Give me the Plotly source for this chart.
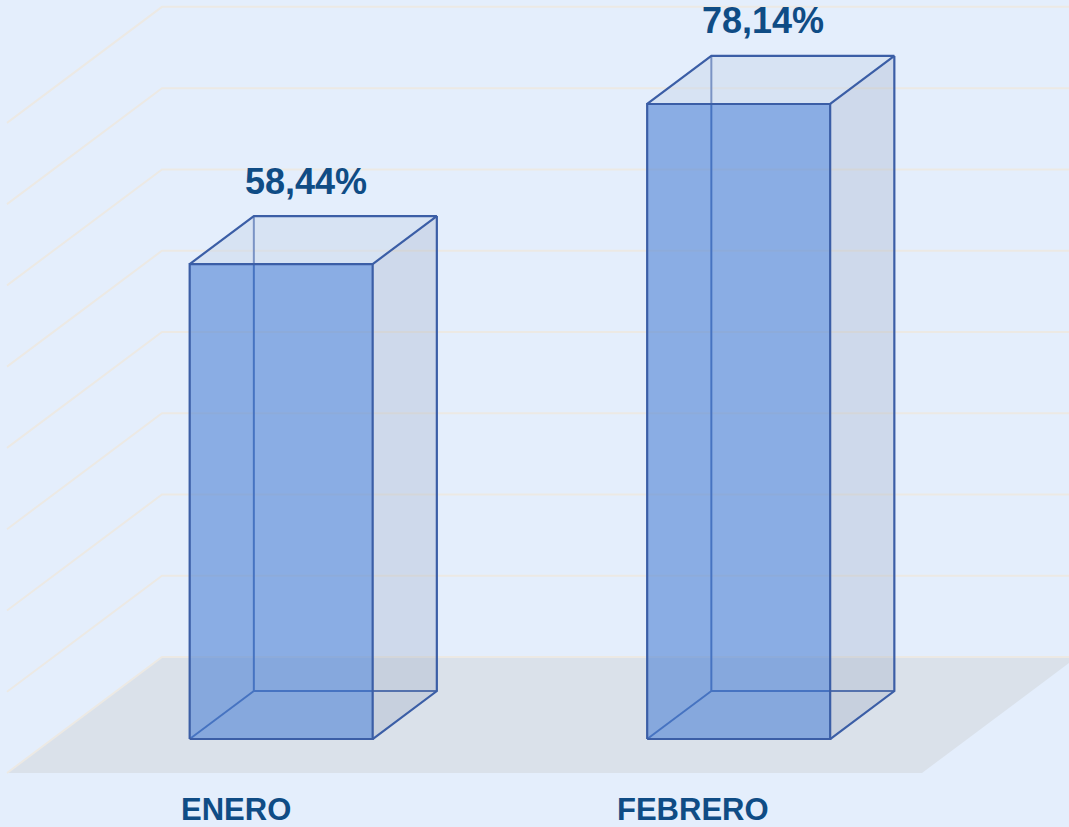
import plotly.graph_objects as go

# ---- data ----
categories = ["ENERO", "FEBRERO"]
values = [58.44, 78.14]
value_labels = ["58,44%", "78,14%"]
grid_values = [0, 10, 20, 30, 40, 50, 60, 70, 80]

# ---- oblique 3D projection settings (in axis units) ----
DX = 0.3388      # horizontal shift for full depth (category units)
DY = 14.27       # vertical shift for full depth (value units)
T_FRONT = 0.293  # bar front depth
T_BACK = 0.707   # bar back depth
HALF_W = 0.2     # half bar width
X_MIN, X_MAX = -0.5, len(categories) - 0.5

BG = "#E4EEFC"
EDGE = "#3B5EA6"
TEXT = "#0F4C85"


def P(x, z, t):
    return x + t * DX, z + t * DY


def poly(points):
    xs = [p[0] for p in points] + [points[0][0]]
    ys = [p[1] for p in points] + [points[0][1]]
    return xs, ys


fig = go.Figure()

# floor
fx, fy = poly([P(X_MIN, 0, 0), P(X_MAX, 0, 0), P(X_MAX, 0, 1), P(X_MIN, 0, 1)])
fig.add_trace(go.Scatter(x=fx, y=fy, fill="toself", fillcolor="#DAE1EA",
                         mode="lines", line=dict(width=0), hoverinfo="skip"))

# gridlines (side wall + back wall)
gx, gy = [], []
for v in grid_values:
    for p in [P(X_MIN, v, 0), P(X_MIN, v, 1), P(X_MAX + 0.05, v, 1)]:
        gx.append(p[0]); gy.append(p[1])
    gx.append(None); gy.append(None)
fig.add_trace(go.Scatter(x=gx, y=gy, mode="lines",
                         line=dict(color="#ECE9E4", width=2), hoverinfo="skip"))

# bars
for i, v in enumerate(values):
    xl, xr = i - HALF_W, i + HALF_W
    FLb, FRb, FRt, FLt = P(xl, 0, T_FRONT), P(xr, 0, T_FRONT), P(xr, v, T_FRONT), P(xl, v, T_FRONT)
    BLb, BRb, BRt, BLt = P(xl, 0, T_BACK), P(xr, 0, T_BACK), P(xr, v, T_BACK), P(xl, v, T_BACK)

    # hidden edges (seen through the translucent faces)
    hx, hy = [], []
    for seg in [(BLt, BLb, BRb), (FLb, BLb)]:
        for p in seg:
            hx.append(p[0]); hy.append(p[1])
        hx.append(None); hy.append(None)
    fig.add_trace(go.Scatter(x=hx, y=hy, mode="lines",
                             line=dict(color=EDGE, width=2), hoverinfo="skip"))

    # side face
    sx, sy = poly([FRb, BRb, BRt, FRt])
    fig.add_trace(go.Scatter(x=sx, y=sy, fill="toself", fillcolor="rgba(150,165,190,0.28)",
                             mode="lines", line=dict(width=0), hoverinfo="skip"))
    # top face
    tx, ty = poly([FLt, FRt, BRt, BLt])
    fig.add_trace(go.Scatter(x=tx, y=ty, fill="toself", fillcolor="rgba(200,212,232,0.45)",
                             mode="lines", line=dict(width=0), hoverinfo="skip"))
    # front face
    ffx, ffy = poly([FLb, FRb, FRt, FLt])
    fig.add_trace(go.Scatter(x=ffx, y=ffy, fill="toself", fillcolor="rgba(78,130,212,0.6)",
                             mode="lines", line=dict(width=0), hoverinfo="skip"))

    # visible edges
    ex, ey = [], []
    for seg in [(FLb, FRb, FRt, FLt, FLb), (FLt, BLt, BRt, FRt), (BRt, BRb, FRb)]:
        for p in seg:
            ex.append(p[0]); ey.append(p[1])
        ex.append(None); ey.append(None)
    fig.add_trace(go.Scatter(x=ex, y=ey, mode="lines",
                             line=dict(color=EDGE, width=2.2), hoverinfo="skip"))

    # value label
    lx, ly = P(i, v, T_BACK)
    fig.add_annotation(x=i + 0.45 * DX, y=ly, text=value_labels[i], showarrow=False,
                       yshift=35, xanchor="center", yanchor="middle",
                       font=dict(family="Liberation Sans, Arial", size=36, color=TEXT, weight="bold"))
    # category label
    fig.add_annotation(x=i, y=0, text=categories[i], showarrow=False,
                       yshift=-36, xanchor="center", yanchor="middle",
                       font=dict(family="Liberation Sans, Arial", size=31, color=TEXT, weight="bold"))

W, H = 1069, 827
px_per_x = 457.5
px_per_y = 8.127
x0_px = 235.75
y0_px = 773.0

fig.update_layout(
    width=W, height=H, autosize=False,
    margin=dict(l=0, r=0, t=0, b=0),
    paper_bgcolor=BG, plot_bgcolor=BG,
    showlegend=False,
    xaxis=dict(range=[-x0_px / px_per_x, (W - x0_px) / px_per_x], visible=False, fixedrange=True),
    yaxis=dict(range=[(y0_px - H) / px_per_y, y0_px / px_per_y], visible=False, fixedrange=True),
)

fig.write_html(
    "out.html",
    config={"displayModeBar": False},
    post_script="document.body.style.margin='0';document.body.style.overflow='hidden';document.body.style.background='" + BG + "';",
)
